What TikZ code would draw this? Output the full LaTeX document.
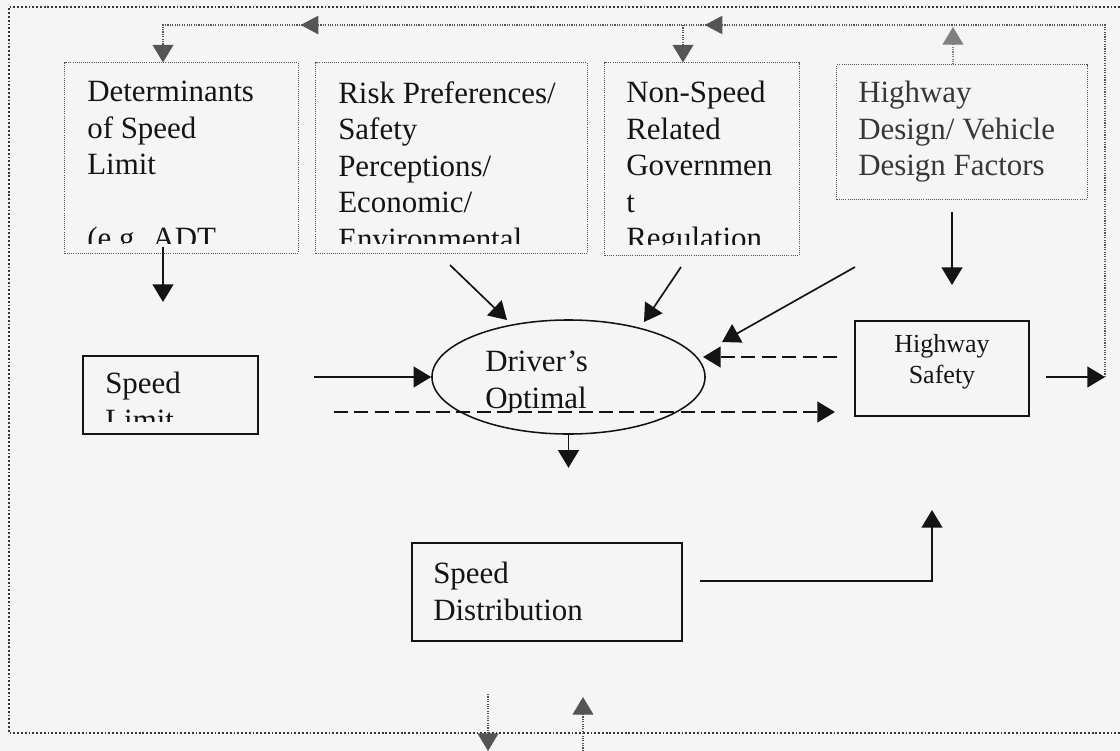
\documentclass[tikz,border=0pt]{standalone}
\usepackage{fontspec}
\setmainfont{Liberation Serif}
\usetikzlibrary{arrows.meta,shapes.geometric,decorations.markings}
\definecolor{paper}{RGB}{245,245,245}
\definecolor{ink}{RGB}{20,20,20}
\definecolor{dotgray}{RGB}{85,85,85}
\definecolor{softink}{RGB}{55,55,55}

\begin{document}
\begin{tikzpicture}[x=0.025cm, y=-0.025cm,
  every node/.style={inner sep=0pt, text=ink},
  sbox/.style={draw=ink, line width=1.1pt},
  dbox/.style={draw=dotgray, line width=0.7pt, dash pattern=on 0.7pt off 0.8pt},
  txt/.style={font=\fontsize{22}{26}\selectfont, align=left, anchor=north west},
  arr/.style={-{Triangle[length=4.4mm,width=5.2mm]}, line width=1.2pt, draw=ink},
  dasharr/.style={arr, dash pattern=on 10pt off 4.5pt},
  loopline/.style={draw=dotgray, line width=0.8pt, dash pattern=on 0.8pt off 0.9pt},
  dotarr/.style={-{Triangle[length=4.4mm,width=5.2mm]}},
  outerframe/.style={draw=ink!85, line width=1.3pt, dash pattern=on 1.3pt off 1.4pt}]
  \fill[paper] (0,0) rectangle (1120,751);
  \useasboundingbox (0,0) rectangle (1120,751);
  \draw[outerframe] (1120,7) -- (9,7) -- (9,733) -- (1120,733);

  % factor boxes along the top
  \node[dbox, minimum width=5.825cm, minimum height=4.75cm] (determ) at (181.5,158) {};
  \node[dbox, minimum width=6.775cm, minimum height=4.75cm] (risk) at (451.5,158) {};
  \node[dbox, minimum width=4.85cm, minimum height=4.8cm] (nonspeed) at (702,159) {};
  \node[dbox, minimum width=6.25cm, minimum height=3.35cm] (hwdesign) at (962,132) {};
  \begin{scope}
    \clip (65,63) rectangle (298,243);
    \node[txt] (determtxt) at (87,81) {Determinants\\of Speed\\Limit\\\mbox{}\\(e.g. ADT};
  \end{scope}
  \begin{scope}
    \clip (316,63) rectangle (587,243);
    \node[txt] (risktxt) at (338,81) {Risk Preferences/\\Safety\\Perceptions/\\Economic/\\Environmental};
  \end{scope}
  \begin{scope}
    \clip (605,63) rectangle (799,244);
    \node[txt] (nonspeedtxt) at (626,81) {Non-Speed\\Related\\Governmen\\t\\Regulation};
  \end{scope}
  \node[txt, text=softink] (hwdesigntxt) at (858,81) {Highway\\Design/ Vehicle\\Design Factors};

  % middle and lower row
  \node[sbox, minimum width=4.375cm, minimum height=1.95cm] (limit) at (170.5,395) {};
  \node[ellipse, draw=ink, line width=1.1pt, minimum width=6.825cm, minimum height=2.85cm] (optimal) at (568.5,377) {};
  \node[sbox, minimum width=4.35cm, minimum height=2.375cm] (hsafe) at (942,368.5) {};
  \node[sbox, minimum width=6.75cm, minimum height=2.45cm] (sdist) at (547,592) {};
  \begin{scope}
    \clip (83,356) rectangle (258,421);
    \node[txt] (limittxt) at (105,372) {Speed\\Limit};
  \end{scope}
  \begin{scope}
    \clip (432,321) rectangle (705,411);
    \node[txt] (optimaltxt) at (485,351) {Driver’s\\Optimal};
  \end{scope}
  \node[font=\fontsize{18.5}{22}\selectfont, align=center, anchor=north] (hsafetxt) at (942,334) {Highway\\Safety};
  \node[txt] (sdisttxt) at (433,562) {Speed\\Distribution};

  % free ends of the connectors
  \coordinate (detout) at (163,247);  \coordinate (detend) at (163,302);
  \coordinate (riskout) at (450,265); \coordinate (riskend) at (507,320);
  \coordinate (nsout) at (681,267);   \coordinate (nsend) at (644,322);
  \coordinate (hdslant) at (855,267); \coordinate (hdslantend) at (722,342);
  \coordinate (hddown) at (952,212);  \coordinate (hddownend) at (952,285);
  \coordinate (limitout) at (314,377);
  \coordinate (backout) at (837,357); \coordinate (backend) at (703,357);
  \coordinate (fwdout) at (334,412);  \coordinate (fwdend) at (835,412);
  \coordinate (hsin) at (1046,377);   \coordinate (hsout) at (1105,377);
  \coordinate (distout) at (700,581); \coordinate (distend) at (932,510);
  \coordinate (looptr) at (1105,25);  \coordinate (looptl) at (163,25);
  \coordinate (nsin) at (683,25);     \coordinate (hdup) at (953,27);
  \coordinate (bdown) at (488,694);   \coordinate (bdownend) at (488,751);
  \coordinate (bup) at (583,751);     \coordinate (bupend) at (583,697);

  \draw[arr] (detout) -- (detend);
  \draw[arr] (riskout) -- (riskend);
  \draw[arr] (nsout) -- (nsend);
  \draw[arr] (hdslant) -- (hdslantend);
  \draw[arr] (hddown) -- (hddownend);
  \draw[arr] (limitout) -- (optimal.west);
  \draw[dasharr] (backout) -- (backend);
  \draw[dasharr] (fwdout) -- (fwdend);
  \draw[arr] (optimal.south) -- ++(0,33);
  \draw[arr] (hsin) -- (hsout);
  \draw[arr] (distout) -| (distend);

  % feedback loop
  \draw[loopline, dotarr, postaction={decorate}, decoration={markings,
      mark=at position 18.8cm with {\arrow{Triangle[length=4.4mm,width=4.6mm]}},
      mark=at position 28.9cm with {\arrow{Triangle[length=4.4mm,width=4.6mm]}}}]
    (hsout) -- (looptr) -- (looptl) -- (looptl |- determ.north);
  \draw[loopline, dotarr] (nsin) -- (nsin |- nonspeed.north);
  \draw[loopline, draw=gray, dotarr] (hdup |- hwdesign.north) -- (hdup);
  \draw[loopline, dotarr] (bdown) -- (bdownend);
  \draw[loopline, dotarr] (bup) -- (bupend);
\end{tikzpicture}
\end{document}
